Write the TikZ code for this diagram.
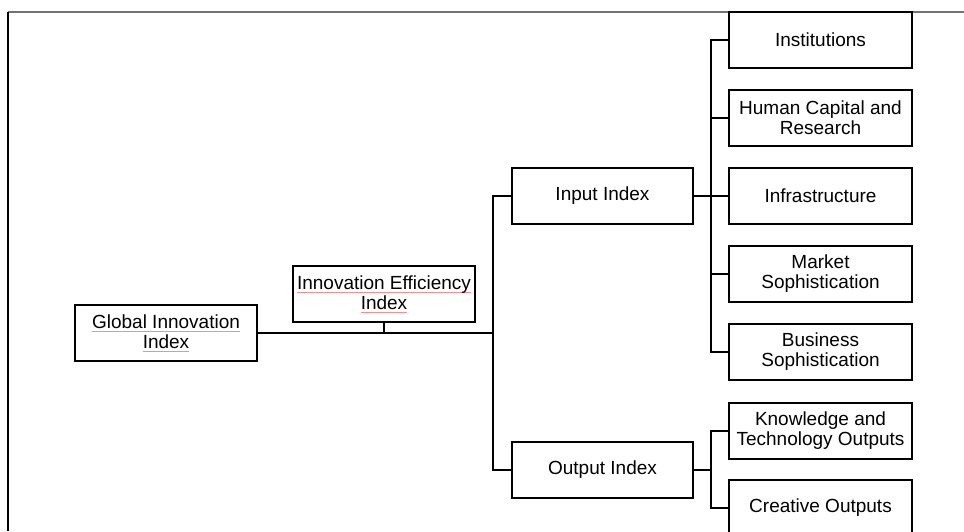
\documentclass[tikz,border=0pt]{standalone}
\usepackage{fontspec}
\setmainfont{Liberation Sans}
\usepackage{xcolor}
% faint spell-check underline beneath a word group
\newcommand{\spellmark}[1]{\setbox0\hbox{#1}\rlap{\color{red!45}\rule[-3pt]{\wd0}{0.7pt}}\box0}
\begin{document}
\begin{tikzpicture}[x=1pt,y=-1pt,
  box/.style={draw=black, line width=2pt, fill=white, rectangle, align=center,
    minimum width=183pt, minimum height=56pt, inner sep=0pt,
    font=\fontsize{19}{20}\selectfont},
  link/.style={draw=black, line width=2pt}]
  \useasboundingbox (0,0) rectangle (964,531);

  % page frame
  \draw[black!55, line width=1.6pt] (8,12) -- (964,12);
  \draw[black, line width=1.6pt] (8,12) -- (8,531);

  % index boxes
  \node[box, minimum width=182pt] (gii) at (166,333) {\spellmark{Global Innovation}\\\spellmark{Index}};
  \node[box, minimum width=182pt] (iei) at (384,294) {\spellmark{Innovation Efficiency}\\\spellmark{Index}};
  \node[box, minimum width=181pt] (inp) at (602.5,196) {Input Index};
  \node[box, minimum width=181pt] (out) at (602.5,470) {Output Index};

  % pillar boxes
  \node[box] (inst)  at (820.5,40)  {Institutions};
  \node[box] (hcr)   at (820.5,118) {Human Capital and\\Research};
  \node[box] (infra) at (820.5,196) {Infrastructure};
  \node[box] (mkt)   at (820.5,274) {Market\\Sophistication};
  \node[box] (bus)   at (820.5,352) {Business\\Sophistication};
  \node[box] (kto)   at (820.5,431) {Knowledge and\\Technology Outputs};
  \node[box] (cre)   at (820.5,508) {Creative Outputs};

  % junction points
  \coordinate (t)  at (493,333);
  \coordinate (ib) at (711,196);
  \coordinate (ob) at (711,470);

  % connectors
  \draw[link] (gii.east) -- (t);
  \draw[link] (iei.south) -- (iei.south |- t);
  \draw[link] (inp.west) -| (t) |- (out.west);
  \draw[link] (inp.east) -- (ib);
  \foreach \c in {inst,hcr,infra,mkt,bus} \draw[link] (ib) |- (\c.west);
  \draw[link] (out.east) -- (ob);
  \foreach \c in {kto,cre} \draw[link] (ob) |- (\c.west);
\end{tikzpicture}
\end{document}
